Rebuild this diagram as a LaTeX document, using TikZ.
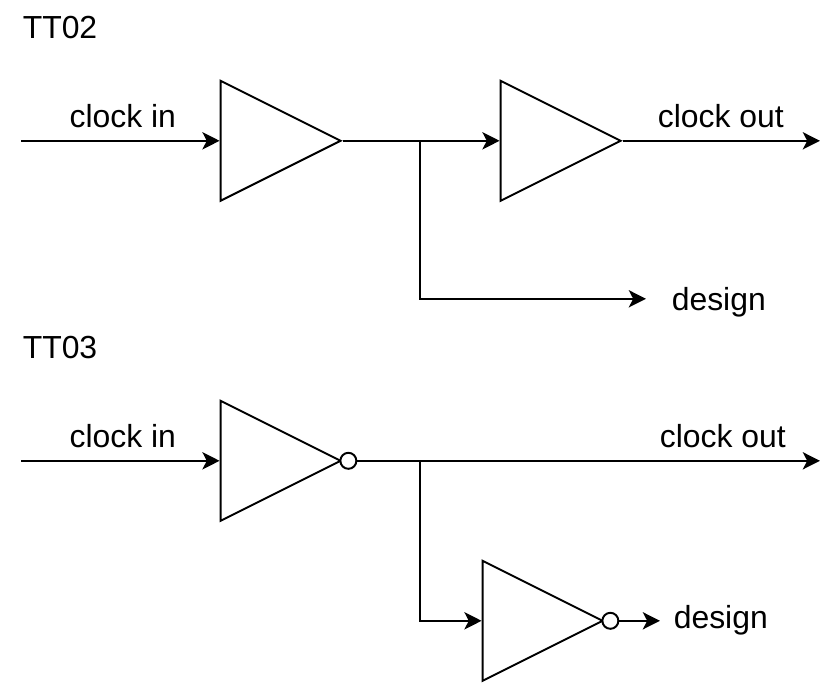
\documentclass[tikz,border=0pt]{standalone}
\usepackage{fontspec}
\setmainfont{Liberation Sans}
\usetikzlibrary{arrows.meta, shapes.geometric}

\begin{document}
\begin{tikzpicture}[
      buffer/.style={draw, isosceles triangle, isosceles triangle stretches, shape border rotate=0,
                     minimum width=3cm, minimum height=3cm, inner sep=0pt, anchor=lower side, line width=1.4pt},
      bubble/.style={draw, fill=white, circle, minimum size=0.4cm, inner sep=0pt, line width=1.4pt, xshift=0.13cm},
      wirelabel/.style={font=\fontsize{22.7}{26}\selectfont, inner sep=0pt},
      wire/.style={line width=1.5pt},
      signal/.style={wire, -{Stealth[length=0.43cm, width=0.43cm, inset=0.11cm]}}
    ]
      \useasboundingbox (0,0) rectangle (20.95,-17.05);
      % TT02
      \node[wirelabel] (tt02) at (1.5,-0.68) {TT02};
      \coordinate (in02) at (0.53,-3.52);
      \node[buffer] (buf1) at (5.49,-3.52) {};
      \node[buffer] (buf2) at (12.49,-3.52) {};
      \coordinate (out02) at (20.5,-3.52);
      \coordinate (tap02) at (10.5,-3.52);
      \coordinate (end02) at (16.15,-7.47);
      \draw[signal] (in02) -- (buf1.lower side);
      \draw[signal] (buf1.apex) -- (buf2.lower side);
      \draw[signal] (buf2.apex) -- (out02);
      \draw[signal] (tap02) |- (end02);
      \node[wirelabel] (clkin02) at (3.07,-2.9) {clock in};
      \node[wirelabel] (clkout02) at (18.02,-2.9) {clock out};
      \node[wirelabel] (design02) at (17.97,-7.55) {design};
      % TT03
      \node[wirelabel] (tt03) at (1.5,-8.68) {TT03};
      \coordinate (in03) at (0.53,-11.52);
      \node[buffer] (inv1) at (5.49,-11.52) {};
      \coordinate (out03) at (20.5,-11.52);
      \coordinate (tap03) at (10.5,-11.52);
      \node[buffer] (inv2) at (12.04,-15.52) {};
      \coordinate (end03) at (16.5,-15.52);
      \draw[signal] (in03) -- (inv1.lower side);
      \draw[signal] (inv1.apex) -- (out03);
      \draw[signal] (tap03) |- (inv2.lower side);
      \draw[signal] (inv2.apex) -- (end03);
      \node[bubble] (dot1) at (inv1.apex) {};
      \node[bubble] (dot2) at (inv2.apex) {};
      \node[wirelabel] (clkin03) at (3.07,-10.9) {clock in};
      \node[wirelabel] (clkout03) at (18.07,-10.9) {clock out};
      \node[wirelabel] (design03) at (18.02,-15.5) {design};
    \end{tikzpicture}
\end{document}
